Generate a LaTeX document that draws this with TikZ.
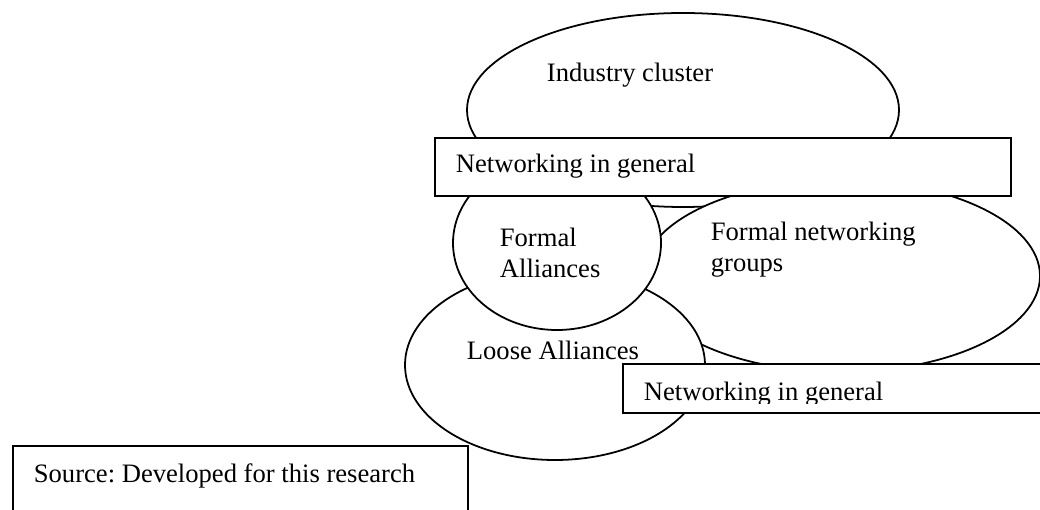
\documentclass[tikz,border=0pt]{standalone}
\usepackage{fontspec}
\setmainfont{Liberation Serif}
\usetikzlibrary{shapes.geometric}
\newcommand{\pxu}{0.451pt}
\frenchspacing

\begin{document}
\begin{tikzpicture}[
  x=0.451pt, y=-0.451pt,
  font=\fontsize{12}{14.4}\selectfont,
  line width=0.8pt,
  region/.style={draw, ellipse, fill=white, inner sep=0pt},
  panel/.style={draw, rectangle, fill=white, inner sep=0pt, anchor=north west},
  tag/.style={anchor=base west, inner sep=0pt, align=left}
]
\useasboundingbox (0,0) rectangle (1040,510);
\clip (0,0) rectangle (1040,510);

% overlapping regions, back to front
\node[region, minimum width=432*\pxu, minimum height=194*\pxu] (cluster) at (683,110) {};
\node[region, minimum width=398*\pxu, minimum height=192*\pxu] (groups) at (841,276) {};
\node[region, minimum width=300*\pxu, minimum height=190*\pxu] (loose) at (555,365) {};
\node[region, minimum width=208*\pxu, minimum height=174*\pxu] (formal) at (557,243) {};

% bands and source note
\node[panel, minimum width=576*\pxu, minimum height=58*\pxu] (netA) at (434,137) {};
\node[panel, minimum width=440*\pxu, minimum height=49*\pxu] (netB) at (622,363) {};
\node[panel, minimum width=455*\pxu, minimum height=90*\pxu] (source) at (12,445) {};

% texts (base of a two-line tag is its last line)
\node[tag] (clusterT) at (546,82) {Industry cluster};
\node[tag] (netAT) at (455,173) {Networking in general};
\node[tag] (formalT) at (499,278) {Formal\\Alliances};
\node[tag] (groupsT) at (710,272) {Formal networking\\groups};
\node[tag] (looseT) at (466,360) {Loose Alliances};
\begin{scope}
  \clip (netB.north west) rectangle (1040,403);
  \node[tag] (netBT) at (643,400) {Networking in general};
\end{scope}
\node[tag] (sourceT) at (33,482) {Source: Developed for this research};
\end{tikzpicture}
\end{document}
